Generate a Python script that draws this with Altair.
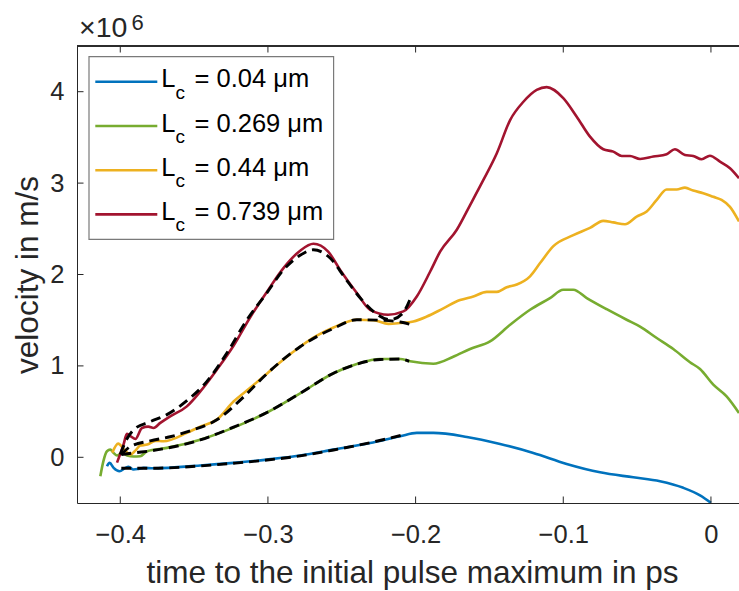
import altair as alt
import pandas as pd

# ---------------------------------------------------------------- data
# velocity in units of 1e6 m/s, time in ps relative to the initial pulse maximum
lengths = ["0.04", "0.269", "0.44", "0.739"]
colors = ["#0072BD", "#77AC30", "#EDB120", "#A2142F"]

t_004 = [-0.4090, -0.4072, -0.4045, -0.4005, -0.3966, -0.3944, -0.3910, -0.3876,
         -0.3842, -0.3775, -0.3459, -0.3233, -0.3007, -0.2782, -0.2556, -0.2308,
         -0.2105, -0.1992, -0.1880, -0.1653, -0.1428, -0.1203, -0.0977, -0.0751,
         -0.0526, -0.0345, -0.0187, -0.0071, 0.0]
v_004 = [-0.098, -0.061, -0.116, -0.153, -0.116, -0.105, -0.134, -0.127,
         -0.116, -0.120, -0.090, -0.061, -0.025, 0.019, 0.084, 0.157,
         0.230, 0.267, 0.267, 0.223, 0.146, 0.048, -0.072, -0.164,
         -0.219, -0.262, -0.334, -0.419, -0.498]

t_0269 = [-0.4135, -0.4115, -0.4090, -0.4068, -0.4045, -0.4022, -0.3988, -0.3953,
          -0.3910, -0.3865, -0.3819, -0.3684, -0.3459, -0.3233, -0.3007, -0.2782,
          -0.2556, -0.2398, -0.2240, -0.2105, -0.2037, -0.1880, -0.1745, -0.1631,
          -0.1496, -0.1360, -0.1225, -0.1090, -0.1000, -0.0932, -0.0841, -0.0706,
          -0.0571, -0.0480, -0.0367, -0.0255, -0.0142, -0.0074, 0.0016, 0.0106, 0.0190]
v_0269 = [-0.207, -0.047, 0.066, 0.084, 0.048, 0.019, 0.048, 0.019,
          0.008, 0.011, 0.066, 0.103, 0.193, 0.325, 0.490, 0.700,
          0.920, 1.020, 1.075, 1.075, 1.050, 1.024, 1.100, 1.185,
          1.268, 1.450, 1.614, 1.742, 1.833, 1.833, 1.742, 1.620,
          1.505, 1.430, 1.305, 1.185, 1.040, 0.966, 0.795, 0.667, 0.485]

t_044 = [-0.4054, -0.4014, -0.3973, -0.3932, -0.3898, -0.3865, -0.3817, -0.3763,
         -0.3707, -0.3549, -0.3459, -0.3346, -0.3233, -0.3120, -0.3007, -0.2895,
         -0.2782, -0.2669, -0.2556, -0.2398, -0.2285, -0.2184, -0.2105, -0.2015,
         -0.1924, -0.1812, -0.1699, -0.1609, -0.1518, -0.1450, -0.1383, -0.1315,
         -0.1225, -0.1157, -0.1067, -0.0932, -0.0819, -0.0729, -0.0661, -0.0582,
         -0.0503, -0.0435, -0.0367, -0.0300, -0.0232, -0.0176, -0.0120, -0.0052,
         0.0016, 0.0072, 0.0129, 0.0190]
v_044 = [0.051, 0.150, 0.084, 0.030, 0.073, 0.128, 0.139, 0.180,
         0.175, 0.267, 0.336, 0.412, 0.610, 0.760, 0.915, 1.070,
         1.210, 1.330, 1.420, 1.505, 1.500, 1.460, 1.469, 1.486,
         1.540, 1.630, 1.720, 1.760, 1.810, 1.810, 1.860, 1.890,
         1.980, 2.125, 2.310, 2.430, 2.510, 2.587, 2.570, 2.550,
         2.634, 2.690, 2.816, 2.930, 2.930, 2.950, 2.918, 2.890,
         2.850, 2.816, 2.740, 2.580]

t_0739 = [-0.4022, -0.3978, -0.3955, -0.3926, -0.3898, -0.3853, -0.3810, -0.3775,
          -0.3729, -0.3662, -0.3549, -0.3459, -0.3346, -0.3233, -0.3120, -0.3007,
          -0.2895, -0.2782, -0.2692, -0.2592, -0.2511, -0.2398, -0.2308, -0.2186,
          -0.2083, -0.1992, -0.1902, -0.1834, -0.1721, -0.1631, -0.1541, -0.1450,
          -0.1360, -0.1270, -0.1180, -0.1112, -0.1000, -0.0909, -0.0819, -0.0729,
          -0.0661, -0.0604, -0.0548, -0.0480, -0.0390, -0.0300, -0.0244, -0.0176,
          -0.0120, -0.0063, -0.0007, 0.0061, 0.0129, 0.0190]
v_0739 = [-0.058, 0.139, 0.256, 0.226, 0.201, 0.321, 0.336, 0.321,
          0.376, 0.448, 0.557, 0.718, 0.958, 1.220, 1.532, 1.810,
          2.070, 2.260, 2.336, 2.250, 2.050, 1.797, 1.614, 1.560,
          1.596, 1.760, 2.030, 2.250, 2.490, 2.760, 3.035, 3.327,
          3.690, 3.890, 4.020, 4.050, 3.930, 3.727, 3.508, 3.370,
          3.344, 3.297, 3.297, 3.264, 3.290, 3.316, 3.370, 3.308,
          3.297, 3.261, 3.300, 3.235, 3.163, 3.054]

# fitted model curves (dashed)
fit_t_004 = [-0.3993, -0.3797, -0.3459, -0.3233, -0.3007, -0.2782, -0.2556, -0.2308, -0.2085]
fit_v_004 = [-0.120, -0.120, -0.095, -0.065, -0.030, 0.015, 0.080, 0.160, 0.245]

fit_t_0269 = [-0.3993, -0.3898, -0.3797, -0.3684, -0.3459, -0.3233, -0.3007, -0.2782,
              -0.2556, -0.2398, -0.2240, -0.2105, -0.2044]
fit_v_0269 = [0.030, 0.050, 0.070, 0.100, 0.190, 0.330, 0.490, 0.700,
              0.920, 1.020, 1.070, 1.075, 1.050]

fit_t_044 = [-0.3993, -0.3932, -0.3797, -0.3662, -0.3526, -0.3346, -0.3165, -0.3007,
             -0.2782, -0.2556, -0.2398, -0.2240, -0.2105, -0.2024]
fit_v_044 = [0.030, 0.117, 0.180, 0.225, 0.290, 0.410, 0.660, 0.915,
             1.210, 1.410, 1.505, 1.500, 1.480, 1.450]

fit_t_0739 = [-0.4000, -0.3959, -0.3910, -0.3797, -0.3684, -0.3549, -0.3413, -0.3278,
              -0.3142, -0.3007, -0.2895, -0.2782, -0.2692, -0.2579, -0.2477, -0.2376,
              -0.2274, -0.2173, -0.2091, -0.2024]
fit_v_0739 = [0.030, 0.190, 0.300, 0.390, 0.467, 0.620, 0.830, 1.140,
              1.505, 1.800, 2.050, 2.210, 2.270, 2.180, 1.960, 1.745,
              1.580, 1.505, 1.570, 1.780]

x_ticks = [-0.4, -0.3, -0.2, -0.1, 0.0]
y_ticks = [0, 1, 2, 3, 4]

# ---------------------------------------------------------------- layout
W, H = 662, 457
FONT = "Liberation Sans"
INK = "#262626"


def frame(ts, vs, name):
    return pd.DataFrame({"t": ts, "v": vs, "Lc": name, "i": list(range(len(ts)))})


curves = pd.concat([frame(t_004, v_004, lengths[0]), frame(t_0269, v_0269, lengths[1]),
                    frame(t_044, v_044, lengths[2]), frame(t_0739, v_0739, lengths[3])])
fits = pd.concat([frame(fit_t_004, fit_v_004, lengths[0]), frame(fit_t_0269, fit_v_0269, lengths[1]),
                  frame(fit_t_044, fit_v_044, lengths[2]), frame(fit_t_0739, fit_v_0739, lengths[3])])

x_enc = alt.X("t:Q",
              scale=alt.Scale(domain=[-0.4293, 0.019], nice=False, zero=False),
              axis=alt.Axis(values=x_ticks, format="~g", title="time to the initial pulse maximum in ps",
                            labelPadding=19, titleX=335, titleY=79, titleBaseline="alphabetic"))
y_enc = alt.Y("v:Q",
              scale=alt.Scale(domain=[-0.5, 4.5], nice=False, zero=False),
              axis=alt.Axis(values=y_ticks, format="d", title="velocity in m/s",
                            labelPadding=13, titleX=-40, titleY=H / 2, titleBaseline="alphabetic"))

lines = alt.Chart(curves).mark_line(clip=True, strokeWidth=2.6, interpolate="monotone").encode(
    x=x_enc, y=y_enc,
    color=alt.Color("Lc:N", scale=alt.Scale(domain=lengths, range=colors), legend=None),
    order=alt.Order("i:Q"),
)

dashed = alt.Chart(fits).mark_line(clip=True, color="black", strokeWidth=2.9,
                                   strokeDash=[10, 6], interpolate="monotone").encode(
    x=x_enc, y=y_enc, detail="Lc:N", order=alt.Order("i:Q"),
)

xt = pd.DataFrame({"t": x_ticks})
yt = pd.DataFrame({"v": y_ticks})
tick_bottom = alt.Chart(xt).mark_rule(color=INK, strokeWidth=1).encode(
    x=x_enc, y=alt.value(H), y2=alt.value(H - 6.5))
tick_top = alt.Chart(xt).mark_rule(color=INK, strokeWidth=1).encode(
    x=x_enc, y=alt.value(0), y2=alt.value(6.5))
tick_left = alt.Chart(yt).mark_rule(color=INK, strokeWidth=1).encode(
    y=y_enc, x=alt.value(0), x2=alt.value(6.5))
top_line = alt.Chart(xt).mark_rule(color=INK, strokeWidth=1).encode(
    x=alt.value(0), x2=alt.value(W), y=alt.value(0))

one = pd.DataFrame({"k": [0]})
exp_base = alt.Chart(one).mark_text(text="×10", font=FONT, fontSize=28.5, color=INK,
                                    align="left", baseline="alphabetic").encode(
    x=alt.value(2), y=alt.value(-8.7))
exp_pow = alt.Chart(one).mark_text(text="6", font=FONT, fontSize=22, color=INK,
                                   align="left", baseline="alphabetic").encode(
    x=alt.value(54.5), y=alt.value(-16))

# legend box with one row per correlation length
legend_layers = [alt.Chart(one).mark_rect(fill="white", stroke="#7a7a7a", strokeWidth=1.2).encode(
    x=alt.value(12), x2=alt.value(256.6), y=alt.value(10.7), y2=alt.value(193.3))]
for k, (lab, col) in enumerate(zip(lengths, colors)):
    row_y = 35.8 + k * 44.2
    row = pd.DataFrame({"label": ["= " + lab + " μm"]})
    legend_layers.append(alt.Chart(row).mark_rule(color=col, strokeWidth=2.6).encode(
        x=alt.value(18.3), x2=alt.value(80.3), y=alt.value(row_y)))
    legend_layers.append(alt.Chart(row).mark_text(text="L", font=FONT, fontSize=25.5, color="black",
                                                  align="left", baseline="alphabetic").encode(
        x=alt.value(84.2), y=alt.value(row_y + 5.6)))
    legend_layers.append(alt.Chart(row).mark_text(text="c", font=FONT, fontSize=19, color="black",
                                                  align="left", baseline="alphabetic").encode(
        x=alt.value(98.6), y=alt.value(row_y + 17)))
    legend_layers.append(alt.Chart(row).mark_text(font=FONT, fontSize=25.5, color="black",
                                                  align="left", baseline="alphabetic").encode(
        x=alt.value(117.5), y=alt.value(row_y + 5.6), text="label:N"))

chart = alt.layer(
    lines, dashed, tick_bottom, tick_top, tick_left, top_line, exp_base, exp_pow, *legend_layers
).properties(
    width=W, height=H,
    padding={"left": 77, "top": 46, "right": 0, "bottom": 88},
    autosize=alt.AutoSizeParams(type="none"),
    background="white",
).configure_view(stroke=None).configure_axis(
    grid=False, ticks=False, tickSize=0,
    domainColor=INK, domainWidth=1,
    labelFont=FONT, labelFontSize=25.5, labelColor=INK,
    titleFont=FONT, titleFontSize=31.5, titleFontWeight="normal", titleColor=INK,
)

chart.save("out.html", embed_options={"renderer": "svg", "actions": False})
